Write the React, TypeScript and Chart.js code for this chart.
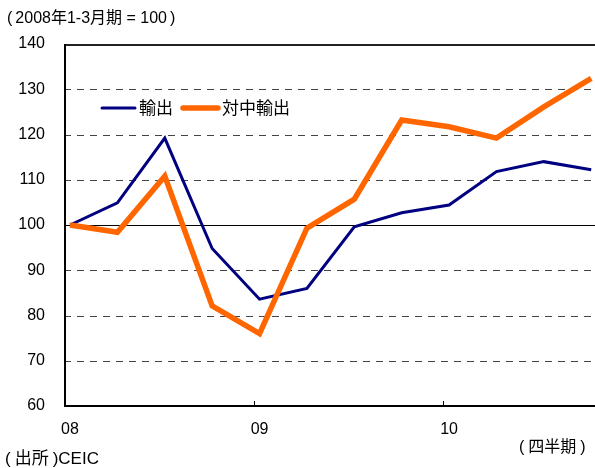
import React, { useEffect, useRef } from "react";
import { Chart, registerables } from "chart.js";
Chart.register(...registerables);

const quarterIndex = [0, 1, 2, 3, 4, 5, 6, 7, 8, 9, 10, 11];
const exportsTotal = [100, 104.9, 119.2, 94.8, 83.6, 86.0, 99.6, 102.7, 104.4, 111.8, 114.0, 112.2];
const exportsChina = [100, 98.4, 110.8, 82.1, 76.0, 99.3, 105.7, 123.2, 121.7, 119.2, 126.1, 132.4];
const yearLabels = ["08", "09", "10"];
const yearTickIndex = [0, 4, 8];
const seriesLabels = ["輸出", "対中輸出"];
const gridValues = [70, 80, 90, 100, 110, 120, 130];

const FONT = "'Liberation Sans', 'Noto Sans CJK JP', sans-serif";
const BLUE = "#000080";
const ORANGE = "#FF6600";

export default function App() {
  const ref = useRef<HTMLCanvasElement>(null);
  useEffect(() => {
    const canvas = ref.current!;
    const X_MIN = -0.127;
    const framePlugin = {
      id: "frame",
      beforeDatasetsDraw(chart: any) {
        const { ctx, chartArea: a, scales } = chart;
        const y = scales.y;
        const x = scales.x;
        ctx.save();
        for (const v of gridValues) {
          const py = Math.round(y.getPixelForValue(v)) + 0.5;
          ctx.beginPath();
          if (v === 100) {
            ctx.setLineDash([]);
            ctx.strokeStyle = "#000";
          } else {
            ctx.setLineDash([7, 6]);
            ctx.strokeStyle = "#444";
          }
          ctx.lineWidth = 1;
          ctx.moveTo(a.left, py);
          ctx.lineTo(a.right, py);
          ctx.stroke();
        }
        ctx.setLineDash([]);
        ctx.strokeStyle = "#222";
        ctx.lineWidth = 2;
        ctx.beginPath();
        ctx.moveTo(a.left, a.top + 1);
        ctx.lineTo(a.right, a.top + 1);
        ctx.stroke();
        ctx.strokeStyle = "#000";
        ctx.lineWidth = 2;
        ctx.beginPath();
        ctx.moveTo(a.left + 1, a.top);
        ctx.lineTo(a.left + 1, a.bottom);
        ctx.lineTo(a.right, a.bottom);
        ctx.stroke();
        ctx.lineWidth = 1;
        for (let k = 1; k < yearTickIndex.length; k++) {
          const px = Math.round(x.getPixelForValue(X_MIN + yearTickIndex[k])) + 0.5;
          ctx.beginPath();
          ctx.moveTo(px, a.bottom);
          ctx.lineTo(px, a.bottom - 5);
          ctx.stroke();
        }
        ctx.restore();
      },
      afterDatasetsDraw(chart: any) {
        const { ctx } = chart;
        const ds = chart.data.datasets;
        ctx.save();
        ctx.font = `17px ${FONT}`;
        ctx.fillStyle = "#000";
        ctx.textBaseline = "middle";
        const items = [
          { x0: 102, x1: 135, tx: 139, d: ds[0] },
          { x0: 183, x1: 218, tx: 222, d: ds[1] },
        ];
        for (const it of items) {
          ctx.strokeStyle = it.d.borderColor;
          ctx.lineWidth = it.d.borderWidth;
          ctx.lineCap = "round";
          ctx.beginPath();
          ctx.moveTo(it.x0, 108);
          ctx.lineTo(it.x1, 108);
          ctx.stroke();
          ctx.fillText(it.d.label, it.tx, 109);
        }
        ctx.restore();
      },
    };

    const chart = new Chart(canvas, {
      type: "line",
      data: {
        datasets: [
          {
            label: seriesLabels[0],
            data: quarterIndex.map((q, i) => ({ x: q, y: exportsTotal[i] })),
            borderColor: BLUE,
            borderWidth: 3,
            pointRadius: 0,
            tension: 0,
            order: 1,
          },
          {
            label: seriesLabels[1],
            data: quarterIndex.map((q, i) => ({ x: q, y: exportsChina[i] })),
            borderColor: ORANGE,
            borderWidth: 5.5,
            pointRadius: 0,
            tension: 0,
            order: 0,
          },
        ],
      },
      options: {
        responsive: false,
        animation: false,
        devicePixelRatio: 1,
        layout: { padding: { top: 44, left: 0, right: 0, bottom: 0 } },
        plugins: { legend: { display: false }, tooltip: { enabled: false }, title: { display: false } },
        scales: {
          x: {
            type: "linear",
            min: X_MIN,
            max: 11.08,
            grid: { display: false, drawTicks: false },
            border: { display: false },
            afterBuildTicks: (s: any) => {
              s.ticks = yearTickIndex.map((v) => ({ value: v }));
            },
            afterFit: (s: any) => {
              s.height = 62;
            },
            ticks: {
              autoSkip: false,
              maxRotation: 0,
              padding: 14,
              color: "#000",
              font: { family: FONT, size: 16 },
              callback: (v: any) => yearLabels[yearTickIndex.indexOf(Number(v))] ?? "",
            },
          },
          y: {
            min: 60,
            max: 140,
            grid: { display: false, drawTicks: false },
            border: { display: false },
            afterFit: (s: any) => {
              s.width = 64;
            },
            ticks: {
              stepSize: 10,
              padding: 19,
              color: "#000",
              font: { family: FONT, size: 16 },
            },
          },
        },
      },
      plugins: [framePlugin],
    } as any);
    return () => chart.destroy();
  }, []);

  const textStyle: React.CSSProperties = {
    position: "absolute",
    fontFamily: FONT,
    fontSize: 16,
    color: "#000",
    whiteSpace: "nowrap",
    lineHeight: 1,
  };
  const gap = (px: number): React.CSSProperties => ({ marginLeft: px, marginRight: px });

  return (
    <div style={{ position: "fixed", left: 0, top: 0, width: 595, height: 468, background: "#fff", overflow: "hidden" }}>
      <canvas ref={ref} width={595} height={468} style={{ position: "absolute", left: 0, top: 0 }} />
      <div style={{ ...textStyle, left: 7, top: 10 }}>
        (<span style={gap(3)}>2008年1-3月期 = 100</span>)
      </div>
      <div style={{ ...textStyle, left: 519, top: 439 }}>
        (<span style={gap(4)}>四半期</span>)
      </div>
      <div style={{ ...textStyle, fontSize: 17, left: 5, top: 450 }}>
        (<span style={gap(4)}>出所</span>)CEIC
      </div>
    </div>
  );
}
